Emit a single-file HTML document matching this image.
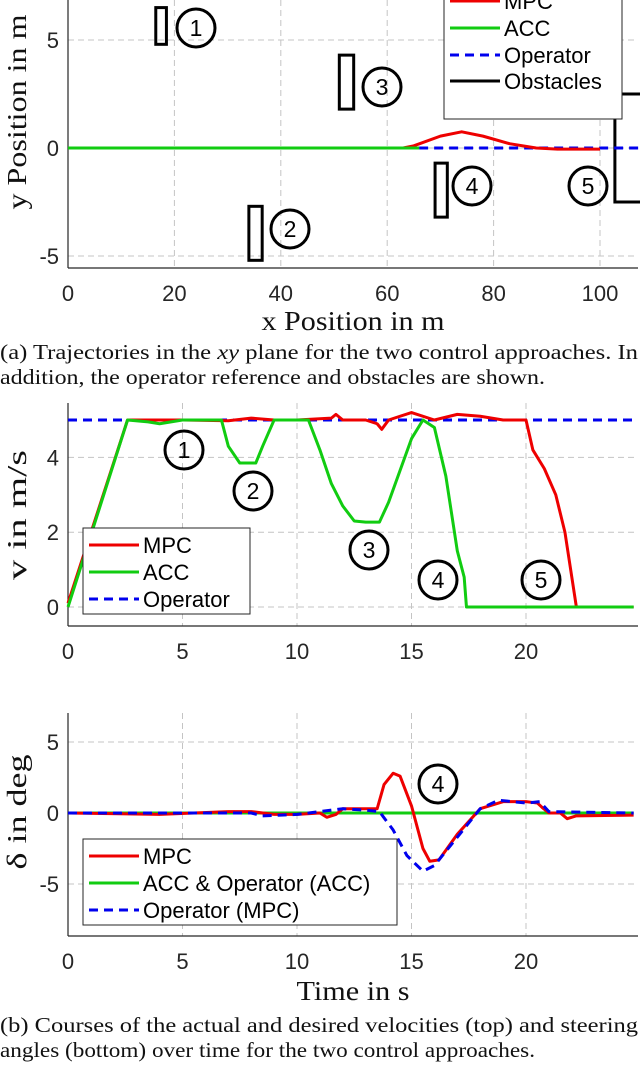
<!DOCTYPE html>
<html><head><meta charset="utf-8"><style>
body{margin:0;background:#fff;width:640px;height:1066px;overflow:hidden}
svg{position:absolute;left:0;top:0}
text{font-family:"Liberation Sans",sans-serif;fill:#262626}
.serif{font-family:"Liberation Serif",serif;fill:#111}
</style></head><body>
<svg id="s" width="640" height="1066" viewBox="0 0 640 1066"></svg>
<script>
// ---- data: trajectory plot
const trajMpcX=[0,63,65,70,74,78,83,88,92,100];
const trajMpcY=[0,0,0.1,0.55,0.75,0.55,0.2,0,-0.05,-0.05];
const trajAccX=[0,66];
const trajAccY=[0,0];
const trajOpX=[66,107.3];
const trajOpY=[0,0];
const xTicks1=[0,20,40,60,80,100];
const yTicks1=[-5,0,5];
// ---- data: velocity plot
const vMpcT=[0,2.6,5,7,8,9,10,11.5,11.7,12,13,13.5,13.7,14,14.5,15,16,17,18,19,20,20.3,20.8,21.3,21.7,22.2,24.7];
const vMpcV=[0.1,5,5,4.98,5.05,5,5,5.05,5.15,5,5,4.9,4.75,5,5.1,5.2,5,5.15,5.1,5,5,4.2,3.7,3,2,0,0];
const vAccT=[0,2.6,3.5,4,5,6.7,7,7.5,8.2,8.5,9,10.5,11,11.5,12,12.5,13,13.6,14,15,15.5,16,16.5,17,17.3,17.4,24.7];
const vAccV=[0,5,4.95,4.9,5,5,4.3,3.85,3.85,4.3,5,5,4.2,3.3,2.7,2.3,2.27,2.27,2.8,4.5,5,4.8,3.5,1.5,0.8,0,0];
const vOpT=[0,24.7];
const vOpV=[5,5];
const xTicks2=[0,5,10,15,20];
const yTicks2=[0,2,4];
// ---- data: steering plot
const dMpcT=[0,4,7,8,9,10,11,11.3,11.7,12,13,13.5,13.8,14.2,14.5,15,15.5,15.8,16.2,17,18,19,20,20.5,20.7,21,21.5,21.8,22.2,24.7];
const dMpcV=[0,-0.1,0.1,0.1,-0.1,-0.1,0,-0.3,-0.1,0.3,0.3,0.3,2,2.8,2.6,0.5,-2.5,-3.4,-3.3,-1.5,0.3,0.8,0.8,0.7,0.4,0,0,-0.4,-0.2,-0.15];
const dAccT=[0,24.7];
const dAccV=[0,0];
const dOpT=[0,8,8.5,10,12,13,13.6,14.2,14.8,15.5,16,17,18,18.8,20,20.6,21,24.7];
const dOpV=[0,0,-0.2,-0.1,0.3,0.2,0.1,-1.2,-3,-4.1,-3.7,-1.7,0.3,0.9,0.7,0.8,0.1,0];
const yTicks3=[-5,0,5];

const S=document.getElementById('s');const NS='http://www.w3.org/2000/svg';
function el(t,a,p){const e=document.createElementNS(NS,t);for(const k in a)e.setAttribute(k,a[k]);(p||S).appendChild(e);return e;}
function lin(d0,d1,r0,r1){return v=>r0+(v-d0)*(r1-r0)/(d1-d0);}
function txt(x,y,s,o){const e=el('text',Object.assign({x:x,y:y},o||{}));e.textContent=s;return e;}

function axes(name,L,T,R,B,sx,sy,xt,yt){
  const g=el('g',{});
  
  
  xt.forEach(v=>{const l=el('line',{x1:sx(v),x2:sx(v),y1:T,y2:B,stroke:'#c4c4c4','stroke-dasharray':'6,4','stroke-width':1},g);
    
    const t=txt(sx(v),B+33,String(v),{'text-anchor':'middle','font-size':'22'});
    });
  yt.forEach(v=>{const l=el('line',{x1:L,x2:R,y1:sy(v),y2:sy(v),stroke:'#c4c4c4','stroke-dasharray':'6,4','stroke-width':1},g);
    
    const t=txt(L-9,sy(v)+8,String(v),{'text-anchor':'end','font-size':'22'});
    });
  el('line',{x1:L,x2:L,y1:T,y2:B,stroke:'#262626','stroke-width':1.2},g);
  el('line',{x1:L,x2:R,y1:B,y2:B,stroke:'#262626','stroke-width':1.2},g);
}
function series(name,xs,ys,sx,sy,col,dash){
  const p=el('polyline',{points:xs.map((x,i)=>sx(x)+','+sy(ys[i])).join(' '),fill:'none',stroke:col,'stroke-width':3,'stroke-dasharray':dash||'none','stroke-linejoin':'round'});
  
}
function circ(x,y,n){
  const c=el('circle',{cx:x,cy:y,r:19,fill:'none',stroke:'#000','stroke-width':3});
  
  const t=txt(x,y+8,String(n),{'text-anchor':'middle','font-size':'23',style:'fill:#000'});
  
}
function legend(name,x,y,w,h,items,rowY){
  const r=el('rect',{x:x,y:y,width:w,height:h,fill:'#fff',stroke:'#262626','stroke-width':1});
  
  items.forEach((it,i)=>{const yy=rowY[i];
    el('line',{x1:x+6,x2:x+56,y1:yy,y2:yy,stroke:it[1],'stroke-width':3,'stroke-dasharray':it[2]||'none'});
    const t=txt(x+60,yy+8,it[0],{'font-size':'22',style:'fill:#000'});
    });
}
function title(s,x,y,len,rot,name){
  const t=txt(0,0,s,{'text-anchor':'middle','font-size':'27',class:'serif',textLength:len,lengthAdjust:'spacingAndGlyphs',transform:`translate(${x},${y})`+(rot?' rotate(-90)':'')});
  
}
function cap(s,y,len,name){
  const t=txt(0,y,'',{'font-size':'21',class:'serif',textLength:len,lengthAdjust:'spacingAndGlyphs'});
  t.innerHTML=s;
}

// ---- chart 1
let sx=lin(0,100,68,600),sy=lin(0,5,148,40);
axes('trajectory',68,0,638,268,sx,sy,xTicks1,yTicks1);
[[16.5,18.5,6.5,4.8],[34,36.5,-2.7,-5.2],[51,53.7,4.3,1.8],[69,71.3,-0.7,-3.2]].forEach((o,i)=>{
  const r=el('rect',{x:sx(o[0]),y:sy(o[2]),width:sx(o[1])-sx(o[0]),height:sy(o[3])-sy(o[2]),fill:'none',stroke:'#000','stroke-width':3});
  });
const ob5=el('polyline',{points:`${sx(110)},${sy(2.5)} ${sx(102.8)},${sy(2.5)} ${sx(102.8)},${sy(-2.5)} ${sx(110)},${sy(-2.5)}`,fill:'none',stroke:'#000','stroke-width':3});

series('traj-operator',trajOpX,trajOpY,sx,sy,'#0000ee','9,6');
series('traj-mpc',trajMpcX,trajMpcY,sx,sy,'#ee0000');
series('traj-acc',trajAccX,trajAccY,sx,sy,'#11cc11');
circ(196,28,1);circ(290,229,2);circ(382,87,3);circ(472,186,4);circ(588,186,5);
legend('trajectory-legend',444,-14,178,133,[['MPC','#ee0000'],['ACC','#11cc11'],['Operator','#0000ee','9,6'],['Obstacles','#000']],[1,28,55,81]);
title('x Position in m',353,330,183,false,'x-axis-title');
title('y Position in m',26,112,195,true,'y-axis-title');
cap('(a) Trajectories in the <tspan font-style="italic">xy</tspan> plane for the two control approaches. In',359,638,'caption-a-line1');
cap('addition, the operator reference and obstacles are shown.',384,545,'caption-a-line2');

// ---- chart 2
sx=lin(0,20,68,526);sy=lin(0,5,607,420);
axes('velocity',68,403,638,626,sx,sy,xTicks2,yTicks2);
series('v-operator',vOpT,vOpV,sx,sy,'#0000ee','9,6');
series('v-mpc',vMpcT,vMpcV,sx,sy,'#ee0000');
series('v-acc',vAccT,vAccV,sx,sy,'#11cc11');
circ(184,450,1);circ(253,491,2);circ(369,550,3);circ(438,580,4);circ(541,580,5);
legend('velocity-legend',83,528,167,86,[['MPC','#ee0000'],['ACC','#11cc11'],['Operator','#0000ee','9,6']],[545,572,599]);
title('v in m/s',26,515,130,true,'v-axis-title');

// ---- chart 3
sy=lin(0,5,813,742);
axes('steering',68,713,638,936,sx,sy,xTicks2,yTicks3);
series('delta-acc',dAccT,dAccV,sx,sy,'#11cc11');
series('delta-mpc',dMpcT,dMpcV,sx,sy,'#ee0000');
series('delta-operator',dOpT,dOpV,sx,sy,'#0000ee','9,6');
circ(438,784,4);
legend('steering-legend',83,839,314,86,[['MPC','#ee0000'],['ACC & Operator (ACC)','#11cc11'],['Operator (MPC)','#0000ee','9,6']],[856,883,910]);
title('δ in deg',26,812,115,true,'delta-axis-title');
title('Time in s',353,1000,113,false,'time-axis-title');
cap('(b) Courses of the actual and desired velocities (top) and steering',1032,638,'caption-b-line1');
cap('angles (bottom) over time for the two control approaches.',1057,535,'caption-b-line2');
</script>
</body></html>
